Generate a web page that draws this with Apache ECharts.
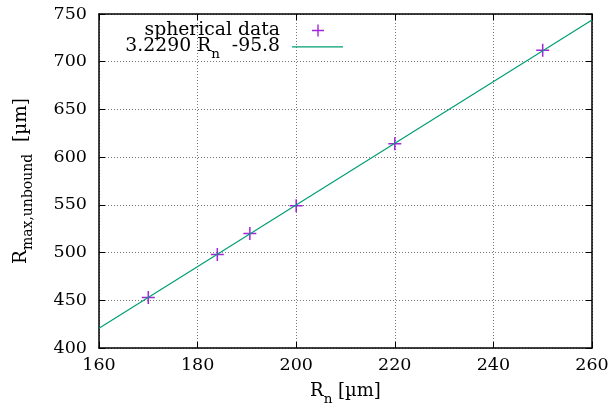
<!DOCTYPE html>
<html><head><meta charset="utf-8">
<script src="https://cdn.jsdelivr.net/npm/echarts@6/dist/echarts.min.js"></script>
<style>html,body{margin:0;padding:0;background:#fff}#c{width:614px;height:411px}</style>
</head><body><div id="c"></div>
<script>
const rn = [170, 184, 190.6, 200, 220, 250];
const rmax = [453, 498, 520, 549, 614, 712];
const fitX = [160, 260];
const fitY = [420.8, 743.7];
const xTicks = {min: 160, max: 260, interval: 20};
const yTicks = {min: 400, max: 750, interval: 50};
const seriesNames = ['spherical data', 'fit'];

const FONT = 'DejaVu Serif';
const mkRich = (fs, ss, pad) => ({
  b: {fontFamily: FONT, fontSize: fs, lineHeight: fs + 1, verticalAlign: 'top', color: '#000'},
  s: {fontFamily: FONT, fontSize: ss, lineHeight: ss, padding: [pad, 0, 0, 0], verticalAlign: 'top', color: '#000'}
});
const plusPath = 'path://M5.3,0h1.4v5.3h5.3v1.4h-5.3v5.3h-1.4v-5.3h-5.3v-1.4h5.3z';
const chart = echarts.init(document.getElementById('c'));
const axisCommon = {
  axisLine: {show: true, lineStyle: {color: '#000', width: 1.5}},
  axisTick: {show: true, inside: true, length: 6, lineStyle: {color: '#000', width: 1}},
  splitLine: {show: false}
};
chart.setOption({
  animation: false,
  backgroundColor: '#fff',
  grid: {left: 99, right: 22, top: 14, bottom: 63, containLabel: false},
  legend: [
    {data: [seriesNames[0]], right: 285, top: 16, orient: 'vertical', align: 'right',
     itemWidth: 12, itemHeight: 12,
     textStyle: {fontFamily: FONT, fontSize: 18.8, color: '#000', padding: [0, 27, 0, 0]}},
    {data: [{name: seriesNames[1], icon: 'rect'}], right: 266, top: 32, orient: 'vertical', align: 'right',
     itemWidth: 51, itemHeight: 1.3,
     formatter: () => '{b|3.2290 R}{s|n}{b|  -95.8}',
     textStyle: {padding: [0, 7, 0, 0], rich: mkRich(18.8, 13.5, 10)}}
  ],
  xAxis: [
    Object.assign({type: 'value', position: 'bottom', min: xTicks.min, max: xTicks.max, interval: xTicks.interval,
      name: '{b|R}{s|n}{b| [µm]}', nameLocation: 'middle', nameGap: 34,
      nameTextStyle: {rich: mkRich(18, 13.5, 10)},
      axisLabel: {fontFamily: FONT, fontSize: 17.5, color: '#000', margin: 8},
    }, axisCommon, {splitLine: {show: true, lineStyle: {color: '#777', type: [1, 2], width: 1}}}),
    Object.assign({type: 'value', position: 'top', min: xTicks.min, max: xTicks.max, interval: xTicks.interval,
      axisLabel: {show: false}}, axisCommon)
  ],
  yAxis: [
    Object.assign({type: 'value', position: 'left', min: yTicks.min, max: yTicks.max, interval: yTicks.interval,
      name: '{b|R}{s|max,unbound}{b|  [µm]}', nameLocation: 'middle', nameGap: 68, nameRotate: 90,
      nameTextStyle: {rich: mkRich(18.5, 14, 10)},
      axisLabel: {fontFamily: FONT, fontSize: 17.5, color: '#000', margin: 12},
    }, axisCommon, {splitLine: {show: true, lineStyle: {color: '#777', type: [1, 2], width: 1}}}),
    Object.assign({type: 'value', position: 'right', min: yTicks.min, max: yTicks.max, interval: yTicks.interval,
      axisLabel: {show: false}}, axisCommon)
  ],
  series: [
    {name: seriesNames[1], type: 'line', xAxisIndex: 0, yAxisIndex: 0,
     data: fitX.map((x, i) => [x, fitY[i]]), showSymbol: false, symbol: 'none',
     lineStyle: {color: '#009e73', width: 1.2}, itemStyle: {color: '#009e73'}, clip: true},
    {name: seriesNames[0], type: 'scatter', xAxisIndex: 0, yAxisIndex: 0,
     data: rn.map((x, i) => [x, rmax[i]]), symbol: plusPath, symbolSize: 13,
     itemStyle: {color: '#9400d3', opacity: 0.85}}
  ]
});
</script></body></html>
